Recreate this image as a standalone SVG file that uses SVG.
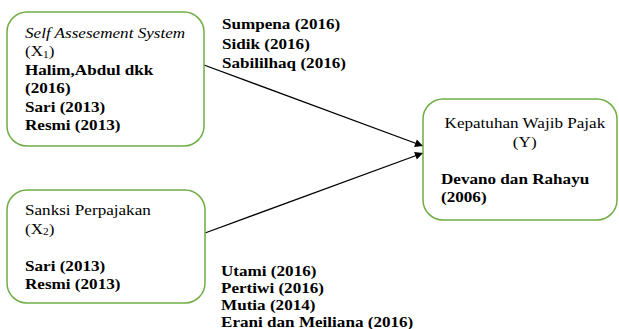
<svg xmlns="http://www.w3.org/2000/svg" width="619" height="329" viewBox="0 0 619 329">
<style>
.box{fill:#fff;stroke:#70AD47;stroke-width:1.5}
text{font-family:"Liberation Serif","Times New Roman",serif;font-size:15px;fill:#000}
.b{font-weight:bold}
.i{font-style:italic}
.sub{font-size:10px}
.conn{stroke:#000;stroke-width:1.3;fill:none;marker-end:url(#ah)}
</style>
<defs>
<marker id="ah" viewBox="0 0 10 10" refX="10" refY="5" markerWidth="10" markerHeight="8" markerUnits="userSpaceOnUse" orient="auto">
<path d="M0,0 L10,5 L0,10 z" fill="#000"/>
</marker>
</defs>
<rect width="619" height="329" fill="#fff"/>
<g id="connectors">
<line class="conn" x1="204" y1="65" x2="423" y2="146"/>
<line class="conn" x1="205" y1="233" x2="423" y2="153"/>
</g>
<g id="node-x1">
<rect class="box" x="7" y="12" width="197" height="134" rx="20" ry="20"/>
<text transform="translate(25,38) scale(1.14,1)">
<tspan x="0" class="i">Self Assesement System</tspan>
<tspan x="0" dy="18.5">(X<tspan class="sub" dy="1.5">1</tspan><tspan dy="-1.5">)</tspan></tspan>
<tspan x="0" dy="18.5" class="b">Halim,Abdul dkk</tspan>
<tspan x="0" dy="18.5" class="b">(2016)</tspan>
<tspan x="0" dy="18.5" class="b">Sari (2013)</tspan>
<tspan x="0" dy="18.5" class="b">Resmi (2013)</tspan>
</text>
</g>
<g id="node-x2">
<rect class="box" x="7" y="190" width="198" height="113" rx="20" ry="20"/>
<text transform="translate(25,215) scale(1.14,1)">
<tspan x="0">Sanksi Perpajakan</tspan>
<tspan x="0" dy="19">(X<tspan class="sub" dy="1.5">2</tspan><tspan dy="-1.5">)</tspan></tspan>
<tspan x="0" dy="37.5" class="b">Sari (2013)</tspan>
<tspan x="0" dy="17.5" class="b">Resmi (2013)</tspan>
</text>
</g>
<g id="node-y">
<rect class="box" x="423" y="99" width="194" height="121" rx="20" ry="20"/>
<text transform="translate(527,128) scale(1.14,1)" text-anchor="middle">
<tspan x="0">Kepatuhan Wajib Pajak</tspan>
<tspan x="-2" dy="19">(Y)</tspan>
</text>
<text transform="translate(441,184) scale(1.14,1)" class="b">
<tspan x="0">Devano dan Rahayu</tspan>
<tspan x="0" dy="18.5">(2006)</tspan>
</text>
</g>
<g id="label-top">
<text transform="translate(222,29.3) scale(1.14,1)" class="b">
<tspan x="0">Sumpena (2016)</tspan>
<tspan x="0" dy="19.5">Sidik (2016)</tspan>
<tspan x="0" dy="19.5">Sabililhaq (2016)</tspan>
</text>
</g>
<g id="label-bottom">
<text transform="translate(221,275.5) scale(1.14,1)" class="b">
<tspan x="0">Utami (2016)</tspan>
<tspan x="0" dy="17.2">Pertiwi (2016)</tspan>
<tspan x="0" dy="17.2">Mutia (2014)</tspan>
<tspan x="0" dy="17.2">Erani dan Meiliana (2016)</tspan>
</text>
</g>
</svg>
